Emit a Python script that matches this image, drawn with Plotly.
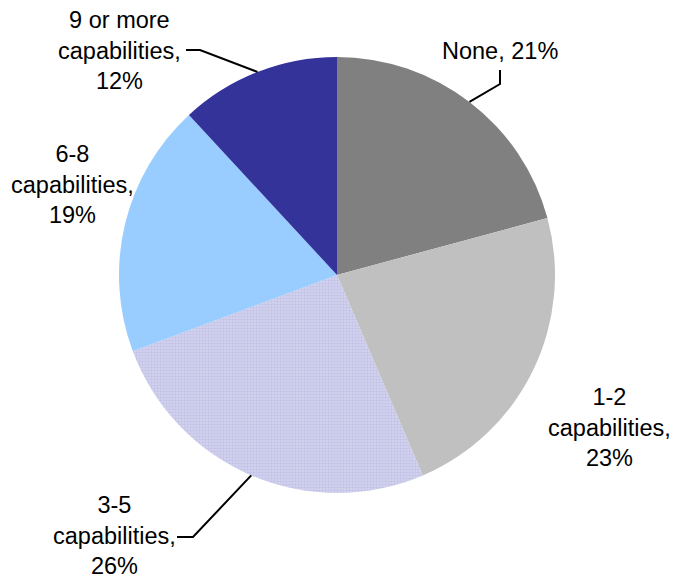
import math
import plotly.graph_objects as go

labels = ["None", "1-2 capabilities", "3-5 capabilities", "6-8 capabilities", "9 or more capabilities"]
values = [21, 23, 26, 19, 12]
colors = ["#808080", "#C0C0C0", "#D6D6F0", "#99CCFF", "#333399"]
label_texts = ["None, 21%", "1-2<br>capabilities,<br>23%", "3-5<br>capabilities,<br>26%",
               "6-8<br>capabilities,<br>19%", "9 or more<br>capabilities,<br>12%"]

W, H = 673, 581
CX, CY, R = 337, 275, 218

fig = go.Figure(go.Pie(
    labels=labels, values=values, sort=False, direction="clockwise", rotation=0,
    marker=dict(colors=colors, line=dict(width=0),
                pattern=dict(shape=["", "", ".", "", ""], fgcolor="#ADADDD", size=3, solidity=0.5,
                             fillmode="overlay")),
    textinfo="none", hoverinfo="label+percent", showlegend=False,
    domain=dict(x=[(CX - R) / W, (CX + R) / W], y=[1 - (CY + R) / H, 1 - (CY - R) / H]),
))

def px(x, y):
    return x / W, 1 - y / H

# label centres (pixels)
label_pos = [(500, 51), (609, 427), (114, 535), (72, 185), (119, 50)]
annotations = []
for t, (x, y) in zip(label_texts, label_pos):
    ax, ay = px(x, y)
    annotations.append(dict(x=ax, y=ay, xref="paper", yref="paper", text=t, showarrow=False,
                            xanchor="center", yanchor="middle",
                            font=dict(family="Liberation Sans, Arial", size=23.5, color="black")))

# leader lines from slice mid-angle edges
total = sum(values)
cum = 0
mids = []
for v in values:
    mids.append((cum + v / 2) / total * 2 * math.pi)
    cum += v

def edge(i):
    a = mids[i]
    return CX + R * math.sin(a), CY - R * math.cos(a)

shapes = []
def path(points):
    s = ""
    for k, (x, y) in enumerate(points):
        X, Y = px(x, y)
        s += ("M" if k == 0 else "L") + f"{X:.5f},{Y:.5f} "
    return s

leaders = {0: [(500, 84), (500, 70)], 2: [(193, 537), (177, 537)], 4: [(200, 50), (186, 50)]}
for i, pts in leaders.items():
    shapes.append(dict(type="path", xref="paper", yref="paper", path=path([edge(i)] + pts),
                       line=dict(color="black", width=2)))

fig.update_layout(width=W, height=H, margin=dict(l=0, r=0, t=0, b=0),
                  paper_bgcolor="white", plot_bgcolor="white",
                  annotations=annotations, shapes=shapes)
fig.write_html("out.html")
